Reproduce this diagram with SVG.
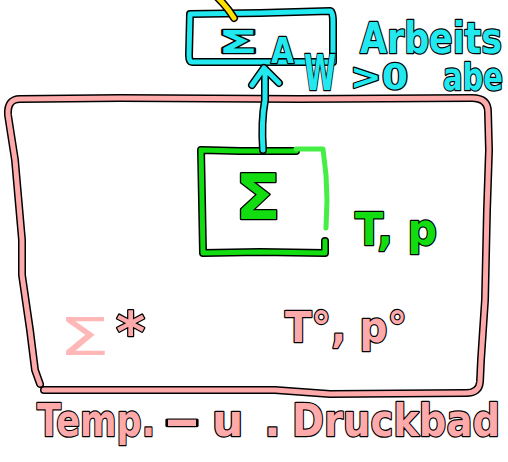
<svg xmlns="http://www.w3.org/2000/svg" width="508" height="462" viewBox="0 0 508 462">
<style>
.ol{fill:none;stroke:#000;stroke-width:8;stroke-linecap:round;stroke-linejoin:round}
.ln{fill:none;stroke-width:5;stroke-linecap:round;stroke-linejoin:round}
.pk{stroke:#ffaaaa}
.cy{stroke:#22e8f0}
.gr{stroke:#11dd11}
.gl{stroke:#44ee44}
.ye{stroke:#ffe000}
text{font-family:"DejaVu Sans",sans-serif;font-weight:bold;paint-order:stroke;stroke:#000;stroke-width:2.5;stroke-linejoin:round}
.tpk{fill:#ffaaaa}
.tlp{fill:#ffb8b8;stroke:none;font-weight:normal}
.tcy{fill:#22e8f0}
.tgr{fill:#11dd11}
</style>
<defs>
<path id="bathTop" d="M 40,384 L 35,370 L 30,330 L 22,275 L 22,240 L 15,160 L 8,115 Q 7,99 20,99 L 120,98 L 300,99 L 472,98 Q 488,98 488,112 L 489,150 L 487,210 L 485,300 L 481,360 L 480,382 Q 479,393 466,393 L 330,394 L 275,390 L 44,390"/>
<path id="grBox" d="M 296,151 L 240,151 L 201,150 L 202,200 L 203,253 L 260,252 L 325,253 L 325,241"/>
<path id="grEdge" d="M 296,149 L 323,149 L 326,175 L 327,200 L 326,228"/>
<path id="cyBox" d="M 190,14 L 260,13 L 330,11 Q 333,11 333,22 L 333,62 L 260,62 L 192,62 Q 189,62 189,55 Z"/>
<path id="arrow" d="M 263,150 Q 261,122 265,100 L 265,70 M 252,85 L 264,68 L 279,83"/>
<path id="yel" d="M 218,-2 Q 228,8 234,18"/>
</defs>
<g id="bath">
<use href="#bathTop" class="ol"/>
<use href="#bathTop" class="ln pk"/>
<text class="tlp" x="58" y="355" font-size="52" textLength="52" lengthAdjust="spacingAndGlyphs">Σ</text>
<text class="tpk" x="116" y="351" font-size="56">*</text>
<text class="tpk" x="285" y="342" font-size="42" textLength="122" lengthAdjust="spacingAndGlyphs">T°, p°</text>
<text class="tpk" y="436" font-size="44"><tspan x="37" textLength="118" lengthAdjust="spacingAndGlyphs">Temp.</tspan><tspan x="163" textLength="38" lengthAdjust="spacingAndGlyphs">-</tspan><tspan x="212">u</tspan><tspan x="264">.</tspan><tspan x="292" textLength="208" lengthAdjust="spacingAndGlyphs">Druckbad</tspan></text>
</g>
<g id="system">
<use href="#grBox" class="ol"/>
<use href="#grBox" class="ln gr"/>
<use href="#grEdge" class="ln gl"/>
<text class="tgr" x="235" y="219" font-size="62" textLength="46" lengthAdjust="spacingAndGlyphs">Σ</text>
<text class="tgr" x="355" y="245" font-size="45" textLength="82" lengthAdjust="spacingAndGlyphs">T, p</text>
</g>
<g id="work-reservoir">
<use href="#cyBox" class="ol"/>
<use href="#cyBox" class="ln cy"/>
<text class="tcy" x="218" y="53" font-size="32" textLength="40" lengthAdjust="spacingAndGlyphs">Σ</text>
<text class="tcy" x="271" y="63" font-size="35" textLength="23" lengthAdjust="spacingAndGlyphs">A</text>
<text class="tcy" x="360" y="53" font-size="43" textLength="142" lengthAdjust="spacingAndGlyphs">Arbeits</text>
<text class="tcy" x="304" y="90" font-size="50" textLength="32" lengthAdjust="spacingAndGlyphs">W</text>
<text class="tcy" x="350" y="89" font-size="36" textLength="58" lengthAdjust="spacingAndGlyphs">&gt;0</text>
<text class="tcy" x="443" y="90" font-size="38" textLength="60" lengthAdjust="spacingAndGlyphs">abe</text>
</g>
<g id="connectors">
<use href="#arrow" class="ol"/>
<use href="#arrow" class="ln cy"/>
<use href="#yel" class="ol"/>
<use href="#yel" class="ln ye"/>
</g>
</svg>
